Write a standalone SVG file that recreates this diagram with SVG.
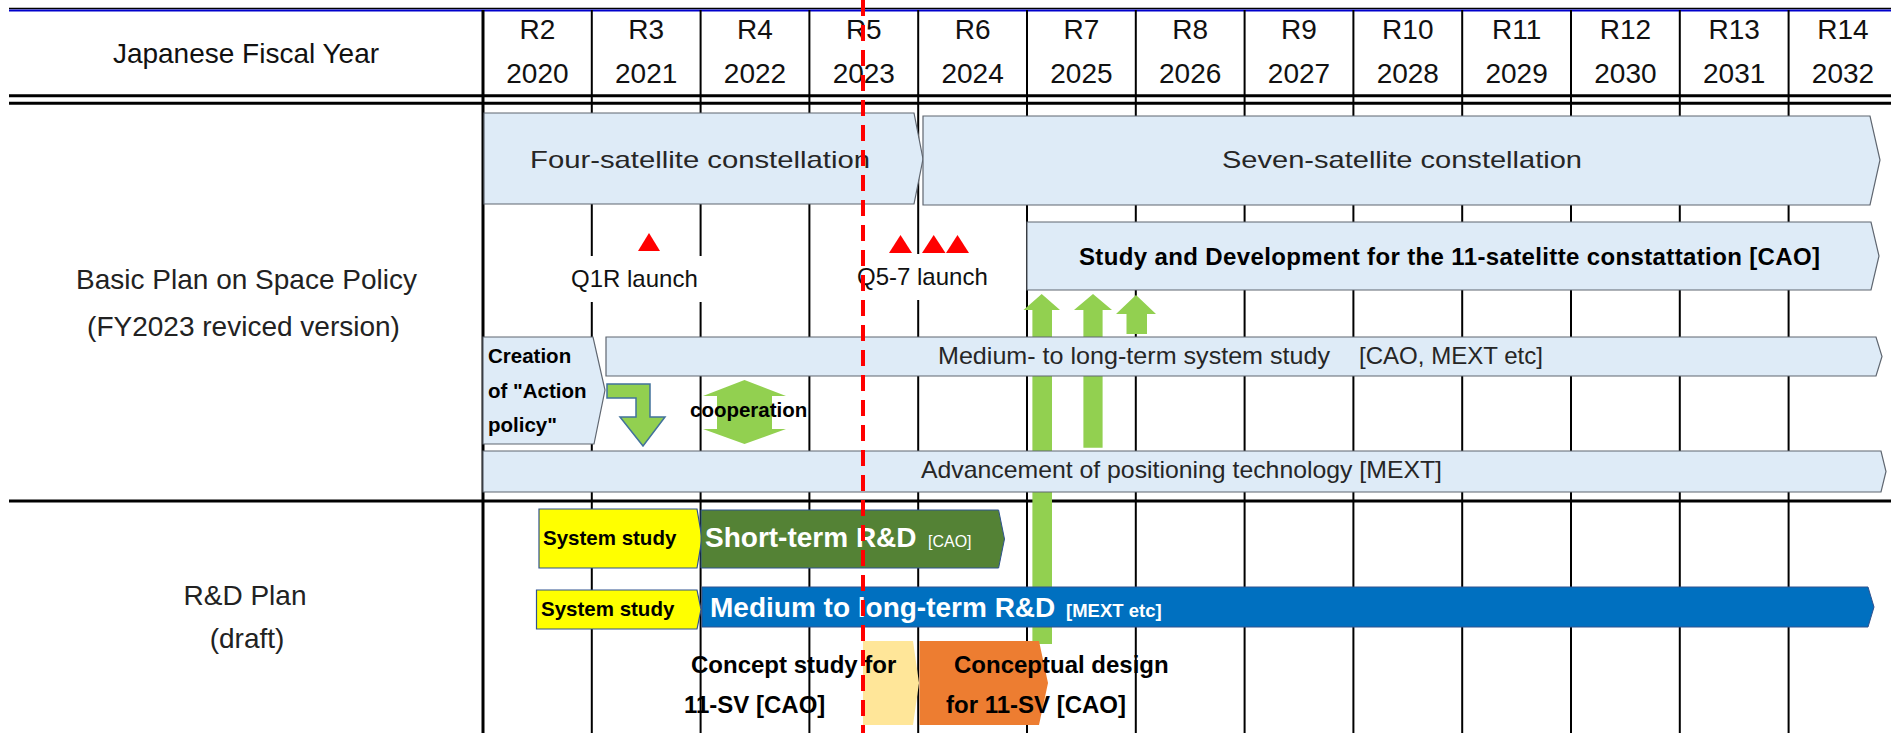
<svg xmlns="http://www.w3.org/2000/svg" width="1891" height="733" viewBox="0 0 1891 733">
<style>
 text{font-family:"Liberation Sans",Arial,sans-serif;}
 .hdr{font-size:28px;fill:#111;}
 .lbl{font-size:28px;fill:#222;}
 .bx{fill:#DEEBF7;stroke:#5F6670;stroke-width:1.2;}
 .bt{font-size:24px;fill:#262626;}
 .bb{font-weight:bold;fill:#000;}
 .wb{font-weight:bold;fill:#fff;}
 .gl{stroke:#000;stroke-width:2;}
 .thick{stroke:#000;stroke-width:3;}
 .green{fill:#92D050;}
 .tri{fill:#FF0000;}
 .ys{fill:#FFFF00;stroke:#2F528F;stroke-width:1.2;}
</style>
<rect x="0" y="0" width="1891" height="733" fill="#fff"/>
<g id="grid">
 <line x1="9" y1="8.5" x2="1891" y2="8.5" stroke="#000" stroke-width="1.5"/>
 <line x1="9" y1="10.5" x2="1891" y2="10.5" stroke="#0000CC" stroke-width="2"/>
 <line class="thick" x1="483" y1="10" x2="483" y2="733"/>
 <g class="gl">
  <line x1="591.8" y1="10" x2="591.8" y2="733"/>
  <line x1="700.6" y1="10" x2="700.6" y2="733"/>
  <line x1="809.4" y1="10" x2="809.4" y2="733"/>
  <line x1="918.2" y1="10" x2="918.2" y2="733"/>
  <line x1="1027" y1="10" x2="1027" y2="733"/>
  <line x1="1135.8" y1="10" x2="1135.8" y2="733"/>
  <line x1="1244.6" y1="10" x2="1244.6" y2="733"/>
  <line x1="1353.4" y1="10" x2="1353.4" y2="733"/>
  <line x1="1462.2" y1="10" x2="1462.2" y2="733"/>
  <line x1="1571" y1="10" x2="1571" y2="733"/>
  <line x1="1679.8" y1="10" x2="1679.8" y2="733"/>
  <line x1="1788.6" y1="10" x2="1788.6" y2="733"/>
 </g>
 <line class="thick" x1="9" y1="95.7" x2="1891" y2="95.7"/>
 <line class="thick" x1="9" y1="103.3" x2="1891" y2="103.3"/>
 <line class="thick" x1="9" y1="501" x2="1891" y2="501"/>
</g>
<g id="header">
 <text class="hdr" x="246" y="63" text-anchor="middle">Japanese Fiscal Year</text>
 <g class="hdr" text-anchor="middle">
  <text x="537.4" y="39">R2</text><text x="646.2" y="39">R3</text><text x="755" y="39">R4</text><text x="863.8" y="39">R5</text>
  <text x="972.6" y="39">R6</text><text x="1081.4" y="39">R7</text><text x="1190.2" y="39">R8</text><text x="1299" y="39">R9</text>
  <text x="1407.8" y="39">R10</text><text x="1516.6" y="39">R11</text><text x="1625.4" y="39">R12</text><text x="1734.2" y="39">R13</text><text x="1843" y="39">R14</text>
 </g>
 <g class="hdr" text-anchor="middle">
  <text x="537.4" y="83">2020</text><text x="646.2" y="83">2021</text><text x="755" y="83">2022</text><text x="863.8" y="83">2023</text>
  <text x="972.6" y="83">2024</text><text x="1081.4" y="83">2025</text><text x="1190.2" y="83">2026</text><text x="1299" y="83">2027</text>
  <text x="1407.8" y="83">2028</text><text x="1516.6" y="83">2029</text><text x="1625.4" y="83">2030</text><text x="1734.2" y="83">2031</text><text x="1843" y="83">2032</text>
 </g>
</g>
<g id="row-labels">
 <text class="lbl" x="246.5" y="289" text-anchor="middle">Basic Plan on Space Policy</text>
 <text class="lbl" x="243.5" y="336" text-anchor="middle">(FY2023 reviced version)</text>
 <text class="lbl" x="245" y="605" text-anchor="middle">R&amp;D Plan</text>
 <text class="lbl" x="247" y="648" text-anchor="middle">(draft)</text>
</g>
<g id="four-sat">
 <polygon class="bx" points="484,113 914,113 923,159 914,204 484,204"/>
 <text class="bt" x="530" y="168" font-size="31" textLength="340" lengthAdjust="spacingAndGlyphs">Four-satellite constellation</text>
</g>
<g id="seven-sat">
 <polygon class="bx" points="923,116 1870,116 1880,160 1870,205 923,205"/>
 <text class="bt" x="1222" y="168" font-size="31" textLength="360" lengthAdjust="spacingAndGlyphs">Seven-satellite constellation</text>
</g>
<g id="q1r-launch">
 <polygon class="tri" points="638,251 660,251 649,233"/>
 <rect x="565" y="256" width="140" height="46" fill="#fff"/>
 <text x="571" y="287" font-size="24" fill="#111">Q1R launch</text>
</g>
<g id="q5-7-launch">
 <polygon class="tri" points="889,253 912,253 900.5,235"/>
 <polygon class="tri" points="922,253 945.5,253 933.7,235"/>
 <polygon class="tri" points="946,253 969,253 957.5,235"/>
 <rect x="850" y="254" width="150" height="46" fill="#fff"/>
 <text x="857" y="285" font-size="24" fill="#111">Q5-7 launch</text>
</g>
<g id="study-11sv">
 <polygon class="bx" points="1027,222 1871,222 1879,256 1871,290 1027,290"/>
 <text class="bb" x="1079" y="265" font-size="24" textLength="741">Study and Development for the 11-satelitte constattation [CAO]</text>
</g>
<g id="connectors">
 <path class="green" d="M1041.7,294 L1060,310 H1052 V644 H1032.4 V310 H1023.5 Z"/>
 <path class="green" d="M1093,294 L1112,310 H1102.6 V447.7 H1083.4 V310 H1074 Z"/>
 <path class="green" d="M1136,295 L1156,314 H1147 V334 H1126.5 V314 H1116 Z"/>
 <path class="green" d="M607,384 H650 V417 H665 L643,446 L620,417 H636 V398 H607 Z" stroke="#41719C" stroke-width="1.5"/>
 <path class="green" d="M744.5,380 L786,396 H772 V429 H786 L744.5,444 L703,429 H717 V396 H703 Z"/>
</g>
<g id="cooperation">
 <text class="bb" x="690" y="417" font-size="20.5">cooperation</text>
</g>
<g id="action-policy">
 <polygon class="bx" points="483,337 593,337 605,390 594,444 483,444"/>
 <g class="bb" font-size="20.5">
  <text x="488" y="363">Creation</text>
  <text x="488" y="398">of "Action</text>
  <text x="488" y="432">policy"</text>
 </g>
</g>
<g id="medium-system-study">
 <polygon class="bx" points="606,337 1876,337 1882,356.5 1876,376 606,376"/>
 <text class="bt" x="938" y="364" font-size="25" textLength="392" lengthAdjust="spacingAndGlyphs">Medium- to long-term system study</text>
 <text class="bt" x="1359" y="364" font-size="25" textLength="184" lengthAdjust="spacingAndGlyphs">[CAO, MEXT etc]</text>
</g>
<g id="advancement">
 <polygon class="bx" points="483,451 1881,451 1886,471.5 1881,492 483,492"/>
 <text class="bt" x="921" y="478" font-size="25" textLength="521" lengthAdjust="spacingAndGlyphs">Advancement of positioning technology [MEXT]</text>
</g>
<g id="system-study-1">
 <polygon class="ys" points="539,509 697,509 702,538.5 697,568 539,568"/>
 <text class="bb" x="543" y="545" font-size="20.5">System study</text>
</g>
<g id="short-term-rd">
 <polygon points="701,510 998.6,510 1004.5,539 998.6,568 701,568" fill="#548235" stroke="#2F528F" stroke-width="1"/>
 <text class="wb" x="705" y="547" font-size="28">Short-term R&amp;D</text>
 <text x="928" y="547" font-size="16" fill="#fff">[CAO]</text>
</g>
<g id="system-study-2">
 <polygon class="ys" points="536.5,590 697,590 701,609.5 697,629 536.5,629"/>
 <text class="bb" x="541" y="616" font-size="20.5">System study</text>
</g>
<g id="medium-rd">
 <polygon points="702,587 1868,587 1874,607 1868,627 702,627" fill="#0070C0" stroke="#2F528F" stroke-width="1"/>
 <text class="wb" x="710" y="617" font-size="28">Medium to long-term R&amp;D</text>
 <text class="wb" x="1066" y="617" font-size="18.5">[MEXT etc]</text>
</g>
<g id="concept-study">
 <polygon points="863,641 913,641 919,683 913,725 863,725" fill="#FFE699"/>
 <text class="bb" x="691" y="673" font-size="24">Concept study for</text>
 <text class="bb" x="684" y="713" font-size="24">11-SV [CAO]</text>
</g>
<g id="conceptual-design">
 <polygon points="919.5,641 1039,641 1048,683 1039,725 919.5,725" fill="#ED7D31"/>
 <text class="bb" x="954" y="673" font-size="24">Conceptual design</text>
 <text class="bb" x="946" y="713" font-size="24">for 11-SV [CAO]</text>
</g>
<g id="current-year-marker">
 <line x1="863" y1="0" x2="863" y2="733" stroke="#FF0000" stroke-width="4" stroke-dasharray="16 9"/>
</g>
</svg>
